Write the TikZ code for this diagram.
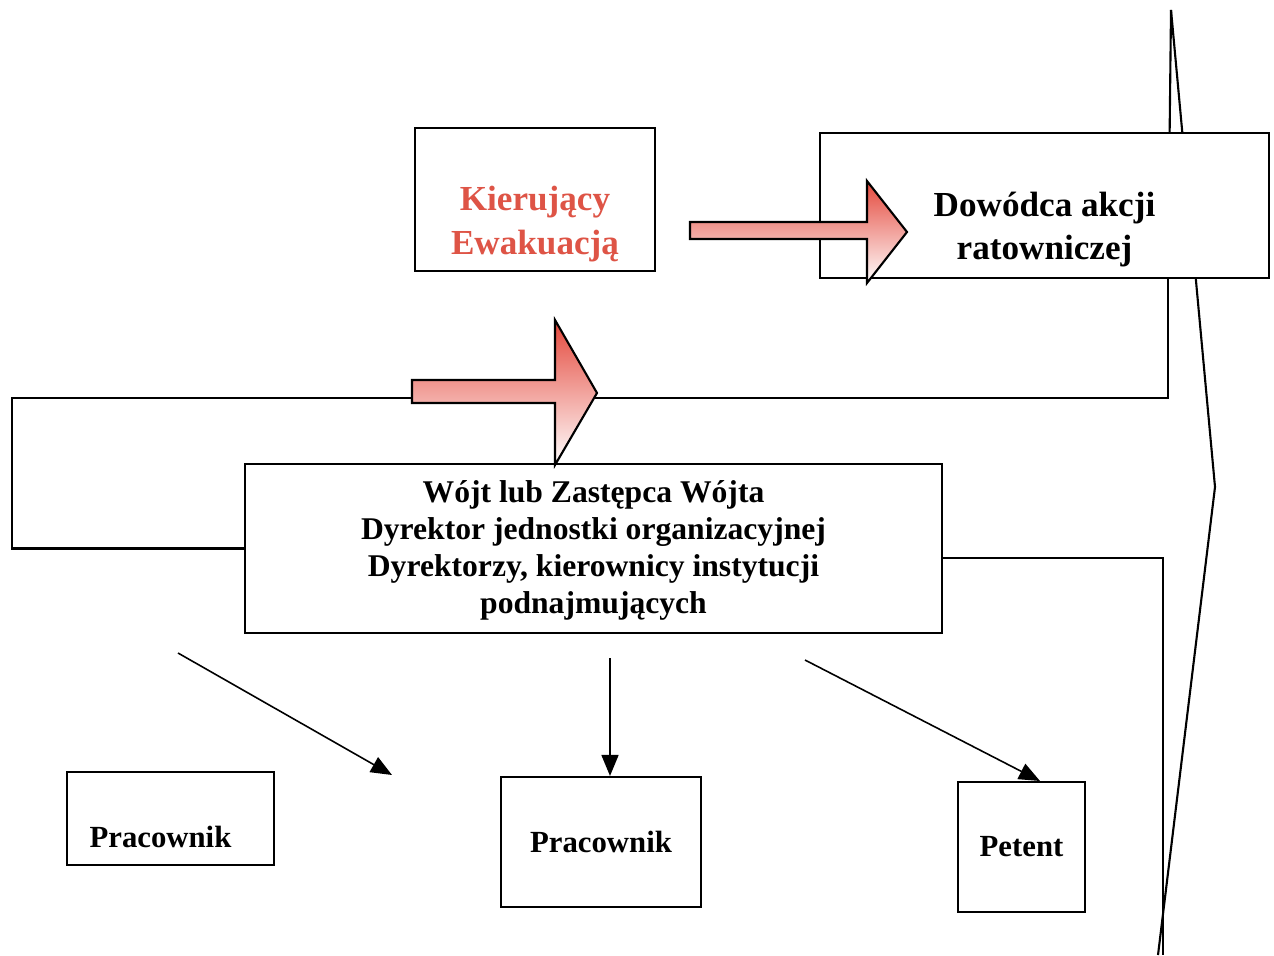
\documentclass[tikz,border=0pt]{standalone}
\usepackage{fontspec}
\setmainfont{Liberation Serif}
\usetikzlibrary{positioning}
\usetikzlibrary{calc}
\usetikzlibrary{backgrounds}
\usetikzlibrary{arrows.meta}

\definecolor{kierred}{RGB}{222,84,70}
\definecolor{arrowred}{RGB}{228,72,60}

\begin{document}
\begin{tikzpicture}[x=0.02cm,y=-0.02cm,line width=1.2pt,
        box/.style={draw,fill=white,inner sep=0pt},
        txt/.style={font=\bfseries,align=center},
        frame/.style={draw,line width=1.2pt},
        fat/.style={draw,top color=arrowred,bottom color=white},
        thin/.style={-{Triangle[length=0.42cm,width=0.34cm]},line width=0.9pt}]
    \useasboundingbox (0,0) rectangle (1274,956);
    % boxes
    \node [box,minimum width=4.8cm,minimum height=2.86cm] (kier) at (535,199.5) {};
    \node [box,minimum width=8.98cm,minimum height=2.9cm] (dow) at (1044.5,205.5) {};
    \node [box,minimum width=13.94cm,minimum height=3.38cm] (wojt) at (593.5,548.5) {};
    \node [txt,text=kierred,font=\fontsize{20}{25}\selectfont\bfseries] at ($(kier)+(0,25)$) {Kierujący\\Ewakuacją};
    \node [txt,font=\fontsize{20}{24}\selectfont\bfseries] at ($(dow)+(0,24)$) {Dowódca akcji\\ratowniczej};
    \node [txt,font=\fontsize{18}{21}\selectfont\bfseries] at ($(wojt)+(0,2)$) {Wójt lub Zastępca Wójta\\Dyrektor jednostki organizacyjnej\\Dyrektorzy, kierownicy instytucji\\podnajmujących};
    % frame lines, behind the boxes
    \begin{scope}[on background layer]
        \coordinate (lt) at (12,398);
        \coordinate (rt) at (1168,278);
        \coordinate (wr) at (942,558);
        \coordinate (bt) at (1163,955);
        \coordinate (top) at (1171,10);
        \coordinate (tip) at (1215,487);
        \coordinate (ct) at (1158,955);
        \path [frame] (wojt.west) -| (lt) -| (rt);
        \path [frame] (wr) -| (bt);
        \path [frame] (top) -- (tip) -- (ct);
        \path [frame] (top) -- (rt);
    \end{scope}
    % bottom row
    \node [box,minimum width=4.14cm,minimum height=1.86cm] (prac1) at (170.5,818.5) {};
    \node [txt,font=\fontsize{17.5}{21}\selectfont\bfseries] at ($(prac1)+(-10,18)$) {Pracownik};
    \node [box,minimum width=4cm,minimum height=2.6cm,txt,font=\fontsize{17.5}{21}\selectfont\bfseries] (prac2) at (601,842) {Pracownik};
    \node [box,minimum width=2.54cm,minimum height=2.6cm,txt,font=\fontsize{17.5}{21}\selectfont\bfseries] (pet) at (1021.5,847) {Petent};
    % fat arrows
    \coordinate (a1) at (690,230.5);
    \coordinate (a2) at (412,391.5);
    \path [fat] (a1) ++(0,-8.5) -- ++(177,0) -- ++(0,-41) -- ++(40,51) -- ++(-40,51)
        -- ++(0,-44) -- ++(-177,0) -- cycle;
    \path [fat] (a2) ++(0,-11.5) -- ++(143,0) -- ++(0,-60) -- ++(42,73) -- ++(-42,72)
        -- ++(0,-62) -- ++(-143,0) -- cycle;
    % thin arrows
    \coordinate (s1) at (178,653);
    \coordinate (e1) at (392,775);
    \coordinate (s2) at (610,658);
    \coordinate (s3) at (805,660);
    \draw [thin] (s1) -- (e1);
    \draw [thin] (s2) -- (s2 |- prac2.north);
    \draw [thin] (s3) -- (1040,781);
\end{tikzpicture}
\end{document}
